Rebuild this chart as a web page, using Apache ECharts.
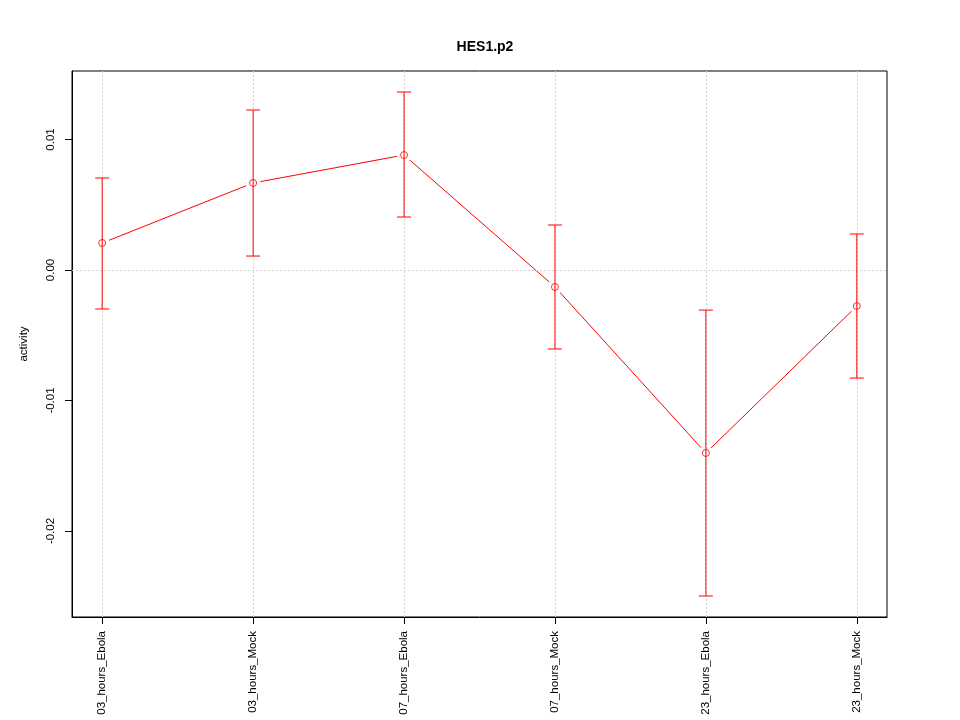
<!DOCTYPE html>
<html>
<head>
<meta charset="utf-8">
<script src="https://cdn.jsdelivr.net/npm/echarts@6/dist/echarts.min.js"></script>
<style>html,body{margin:0;padding:0;background:#fff;}#c{width:960px;height:720px;}</style>
</head>
<body>
<div id="c"></div>
<script>
var categories = ['03_hours_Ebola','03_hours_Mock','07_hours_Ebola','07_hours_Mock','23_hours_Ebola','23_hours_Mock'];
var activity = [0.00207, 0.00667, 0.00881, -0.0013, -0.01402, -0.00276];
var upper = [0.00705, 0.01226, 0.01364, 0.00345, -0.00307, 0.00276];
var lower = [-0.00299, 0.00107, 0.00406, -0.00605, -0.02498, -0.00828];
var yTicks = [-0.02, -0.01, 0, 0.01];
var zeroLine = [0];
var title = 'HES1.p2';
var yName = 'activity';

var xIdx = categories.map(function(c, i){ return i + 1; });
var pts = activity.map(function(v, i){ return [i + 1, v]; });
var errData = categories.map(function(c, i){ return [i + 1, lower[i], upper[i]]; });
var font = 'Liberation Sans, Arial, Helvetica, sans-serif';

var gridLineStyle = {color: '#d3d3d3', type: [2, 2], width: 1};
var markLines = [];
xIdx.forEach(function(x){ markLines.push({xAxis: x}); });
zeroLine.forEach(function(y){ markLines.push({yAxis: y}); });

var chart = echarts.init(document.getElementById('c'), null, {renderer: 'canvas'});
chart.setOption({
  animation: false,
  backgroundColor: '#ffffff',
  title: {
    text: title, left: 480, top: 35, textAlign: 'center',
    textStyle: {fontFamily: font, fontSize: 14, fontWeight: 'bold', color: '#000'}
  },
  grid: {left: 72, right: 73, top: 71, bottom: 103, show: true, borderColor: '#000', borderWidth: 1, backgroundColor: 'transparent'},
  xAxis: {
    type: 'value', min: 0.8, max: 6.2,
    splitLine: {show: false},
    axisLine: {show: true, onZero: false, lineStyle: {color: '#000'}},
    axisTick: {show: true, length: 7, customValues: xIdx, lineStyle: {color: '#000'}},
    axisLabel: {
      customValues: xIdx, rotate: 90, margin: 14,
      fontFamily: font, fontSize: 11.5, color: '#000',
      formatter: function(v){ return categories[Math.round(v) - 1] || ''; }
    }
  },
  yAxis: {
    type: 'value', min: -0.02659, max: 0.01525,
    name: yName, nameLocation: 'middle', nameGap: 42, nameRotate: 90,
    nameTextStyle: {fontFamily: font, fontSize: 11.5, color: '#000'},
    splitLine: {show: false},
    axisLine: {show: true, lineStyle: {color: '#000'}},
    axisTick: {show: true, length: 7, customValues: yTicks, lineStyle: {color: '#000'}},
    axisLabel: {
      customValues: yTicks, rotate: 90, margin: 15,
      fontFamily: font, fontSize: 11.5, color: '#000',
      formatter: function(v){ return v.toFixed(2); }
    }
  },
  series: [
    {
      type: 'line', data: [], silent: true, z: 0,
      markLine: {silent: true, symbol: 'none', label: {show: false}, lineStyle: gridLineStyle, data: markLines, animation: false}
    },
    {
      type: 'line', data: pts, z: 3, silent: true,
      symbol: 'none',
      lineStyle: {color: '#ff0000', width: 1}
    },
    {
      type: 'scatter', data: pts, z: 4, silent: true,
      symbol: 'circle', symbolSize: 15,
      itemStyle: {color: '#ffffff', opacity: 1}
    },
    {
      type: 'custom', data: errData, z: 5, silent: true,
      renderItem: function(params, api){
        var x = api.value(0);
        var lo = api.coord([x, api.value(1)]);
        var hi = api.coord([x, api.value(2)]);
        var c = 7;
        var st = {stroke: '#ff0000', lineWidth: 1};
        return {type: 'group', children: [
          {type: 'line', shape: {x1: lo[0], y1: lo[1], x2: hi[0], y2: hi[1]}, style: st},
          {type: 'line', shape: {x1: lo[0]-c, y1: lo[1], x2: lo[0]+c, y2: lo[1]}, style: st},
          {type: 'line', shape: {x1: hi[0]-c, y1: hi[1], x2: hi[0]+c, y2: hi[1]}, style: st}
        ]};
      }
    },
    {
      type: 'scatter', data: pts, z: 6, silent: true,
      symbol: 'circle', symbolSize: 7,
      itemStyle: {color: 'transparent', borderColor: '#ff0000', borderWidth: 1}
    }
  ]
});
</script>
</body>
</html>
